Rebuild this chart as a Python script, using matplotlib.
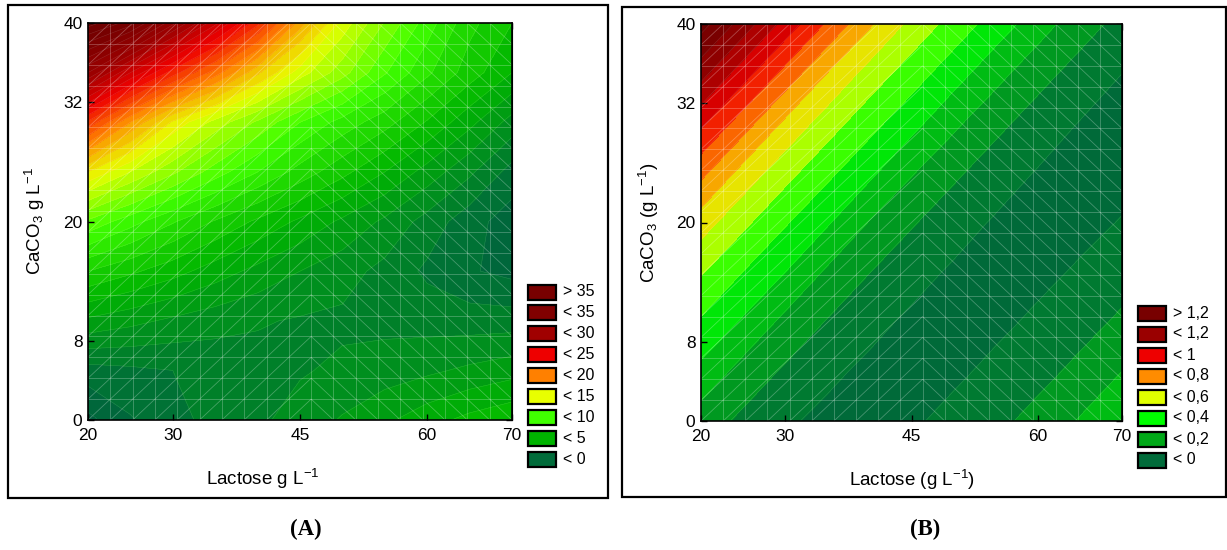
import numpy as np
import matplotlib
matplotlib.use('Agg')
import matplotlib.pyplot as plt
from matplotlib.colors import LinearSegmentedColormap, Normalize
from matplotlib.collections import LineCollection
from matplotlib.patches import Rectangle

plt.rcParams['font.family'] = ['Liberation Sans', 'DejaVu Sans']
plt.rcParams['mathtext.fontset'] = 'custom'
plt.rcParams['mathtext.rm'] = 'Liberation Sans'
plt.rcParams['mathtext.it'] = 'Liberation Sans:italic'

# grid of the two fitted surfaces (x = lactose, y = CaCO3)
lactose = [20, 25, 30, 35, 40, 45, 50, 55, 60, 65, 70]
caco3 = [0, 5, 10, 15, 20, 25, 30, 35, 40]

# (A) one row per CaCO3 level
resp_a = [
    [-1.3, -0.1, 0.7, 1.3, 1.8, 2.4, 3.1, 3.8, 4.6, 5.3, 5.8],
    [0.6, 0.8, 1.0, 1.3, 1.6, 1.9, 2.2, 2.5, 2.8, 3.2, 3.6],
    [3.8, 3.3, 2.8, 2.4, 2.1, 1.9, 1.8, 1.7, 1.6, 1.5, 1.5],
    [7.0, 6.2, 5.4, 4.5, 3.7, 3.0, 2.4, 1.7, 0.8, 0.1, -0.3],
    [10.8, 9.4, 8.1, 6.9, 5.8, 4.8, 3.8, 2.8, 1.6, 0.4, -0.5],
    [16.0, 14.0, 12.2, 10.5, 9.0, 7.6, 6.3, 5.0, 3.6, 2.2, 0.6],
    [22.8, 19.0, 15.8, 13.6, 11.8, 10.0, 8.6, 7.4, 5.9, 4.3, 2.6],
    [31.0, 27.0, 23.5, 20.5, 17.2, 14.5, 12.4, 10.1, 8.2, 6.5, 5.0],
    [37.5, 35.5, 31.3, 27.3, 23.3, 18.5, 14.6, 11.9, 9.5, 7.3, 6.0],
]

# (B)
resp_b = [
    [0.150, 0.078, 0.014, -0.025, -0.043, -0.013, 0.026, 0.074, 0.133, 0.208, 0.280],
    [0.274, 0.161, 0.086, 0.021, -0.021, -0.047, -0.017, 0.021, 0.068, 0.125, 0.200],
    [0.387, 0.287, 0.173, 0.094, 0.028, -0.018, -0.050, -0.020, 0.016, 0.063, 0.117],
    [0.510, 0.398, 0.300, 0.184, 0.102, 0.035, -0.014, -0.046, -0.023, 0.011, 0.058],
    [0.647, 0.523, 0.410, 0.311, 0.195, 0.110, 0.042, -0.011, -0.043, -0.027, 0.005],
    [0.827, 0.663, 0.535, 0.423, 0.322, 0.208, 0.118, 0.049, -0.007, -0.039, -0.030],
    [1.021, 0.846, 0.680, 0.548, 0.435, 0.333, 0.221, 0.126, 0.056, -0.004, -0.036],
    [1.235, 1.042, 0.865, 0.697, 0.560, 0.448, 0.343, 0.234, 0.134, 0.063, 0.000],
    [1.440, 1.257, 1.063, 0.885, 0.715, 0.573, 0.460, 0.354, 0.247, 0.142, 0.070],
]

x_ticks = [20, 30, 45, 60, 70]
y_ticks = [0, 8, 20, 32, 40]

# colour ramps
stops_a = [-2, 0, 5, 10, 15, 20, 25, 30, 35, 40]
colors_a = ['#005a3e', '#006b3a', '#00b400', '#40ff00', '#e8ff00',
            '#ff8000', '#ee0000', '#a00000', '#7a0000', '#600000']
stops_b = [-0.1, 0.0, 0.2, 0.4, 0.6, 0.8, 1.0, 1.2, 1.4, 1.5]
colors_b = ['#006838', '#006b3a', '#00a818', '#00ff00', '#e0ff00',
            '#ff8c00', '#ee0000', '#9a0000', '#700000', '#680000']

levels_a = np.arange(-2, 42, 1)
levels_b = np.round(np.arange(-0.1, 1.51, 0.1), 2)

key_a = ['> 35', '< 35', '< 30', '< 25', '< 20', '< 15', '< 10', '< 5', '< 0']
key_a_col = ['#780000', '#800000', '#a00000', '#ee0000', '#ff8000',
             '#e8ff00', '#40ff00', '#00b400', '#006b3a']
key_b = ['> 1,2', '< 1,2', '< 1', '< 0,8', '< 0,6', '< 0,4', '< 0,2', '< 0']
key_b_col = ['#780000', '#9a0000', '#ee0000', '#ff8c00', '#e0ff00',
             '#00ff00', '#00a818', '#006b3a']

W, H = 1227, 550


def ramp(stops, colors):
    lo, hi = stops[0], stops[-1]
    pos = [(s - lo) / (hi - lo) for s in stops]
    return LinearSegmentedColormap.from_list('r', list(zip(pos, colors))), Normalize(lo, hi)


def mesh(ax):
    xs = np.linspace(20, 70, 20)
    ys = np.linspace(0, 40, 20)
    segs = [[(x, 0), (x, 40)] for x in xs[1:-1]]
    segs += [[(20, y), (70, y)] for y in ys[1:-1]]
    for i in range(19):
        for j in range(19):
            if i < 10:
                segs.append([(xs[i], ys[j]), (xs[i + 1], ys[j + 1])])
            else:
                segs.append([(xs[i], ys[j + 1]), (xs[i + 1], ys[j])])
    ax.add_collection(LineCollection(segs, colors='white', linewidths=0.6, alpha=0.28))


def panel(fig, rect, z, stops, colors, levels, xlab, ylab, xlab_x, ylab_x):
    ax = fig.add_axes(rect)
    cmap, norm = ramp(stops, colors)
    ax.contourf(lactose, caco3, z, levels=levels, cmap=cmap, norm=norm)
    ax.contour(lactose, caco3, z, levels=levels, colors='white', linewidths=0.4, alpha=0.15)
    mesh(ax)
    ax.set_xlim(20, 70)
    ax.set_ylim(0, 40)
    ax.set_xticks(x_ticks)
    ax.set_yticks(y_ticks)
    ax.tick_params(direction='in', length=4.5, width=1, labelsize=12.5)
    ax.tick_params(axis='x', pad=6)
    ax.tick_params(axis='y', pad=4)
    for s in ax.spines.values():
        s.set_linewidth(1.2)
    top = ax.secondary_xaxis('top')
    top.set_xticks(np.arange(20, 70.01, 6.25))
    top.tick_params(direction='in', length=4.5, width=1, labeltop=False)
    right = ax.secondary_yaxis('right')
    right.set_yticks(np.arange(0, 40.01, 5))
    right.tick_params(direction='in', length=4.5, width=1, labelright=False)
    ax.set_xlabel(xlab, fontsize=13.5, va='center')
    ax.set_ylabel(ylab, fontsize=13.5, va='center')
    ax.xaxis.set_label_coords(xlab_x, -0.148)
    ax.yaxis.set_label_coords(ylab_x, 0.5)
    return ax


def key(fig, labels, cols, x0, y0, step):
    for k, (lab, col) in enumerate(zip(labels, cols)):
        yc = y0 + k * step
        fig.add_artist(Rectangle((x0 / W, 1 - (yc + 7.5) / H), 28 / W, 15 / H,
                                 transform=fig.transFigure, facecolor=col,
                                 edgecolor='black', lw=1.6))
        fig.text((x0 + 35) / W, 1 - yc / H, lab, ha='left', va='center', fontsize=11.5)


fig = plt.figure(figsize=(W / 100, H / 100), dpi=100)

# outer boxes
fig.add_artist(Rectangle((8 / W, 1 - 498 / H), 600 / W, 493 / H, transform=fig.transFigure,
                         fill=False, edgecolor='black', lw=1.6))
fig.add_artist(Rectangle((622 / W, 1 - 497 / H), 604 / W, 490 / H, transform=fig.transFigure,
                         fill=False, edgecolor='black', lw=1.6))

panel(fig, [88 / W, 1 - 420 / H, 424 / W, 397 / H], resp_a, stops_a, colors_a, levels_a,
      'Lactose g L$^{-1}$', 'CaCO$_3$ g L$^{-1}$', 0.413, -0.125)
panel(fig, [701 / W, 1 - 421 / H, 421 / W, 397 / H], resp_b, stops_b, colors_b, levels_b,
      'Lactose (g L$^{-1}$)', 'CaCO$_3$ (g L$^{-1}$)', 0.5, -0.124)

key(fig, key_a, key_a_col, 528, 292, 20.9)
key(fig, key_b, key_b_col, 1138, 313, 21)

fig.text(306 / W, 1 - 529 / H, '(A)', ha='center', va='center', fontsize=16.5,
         fontweight='bold', family='Liberation Serif')
fig.text(925 / W, 1 - 529 / H, '(B)', ha='center', va='center', fontsize=16.5,
         fontweight='bold', family='Liberation Serif')

fig.savefig('out.png', dpi=100)
